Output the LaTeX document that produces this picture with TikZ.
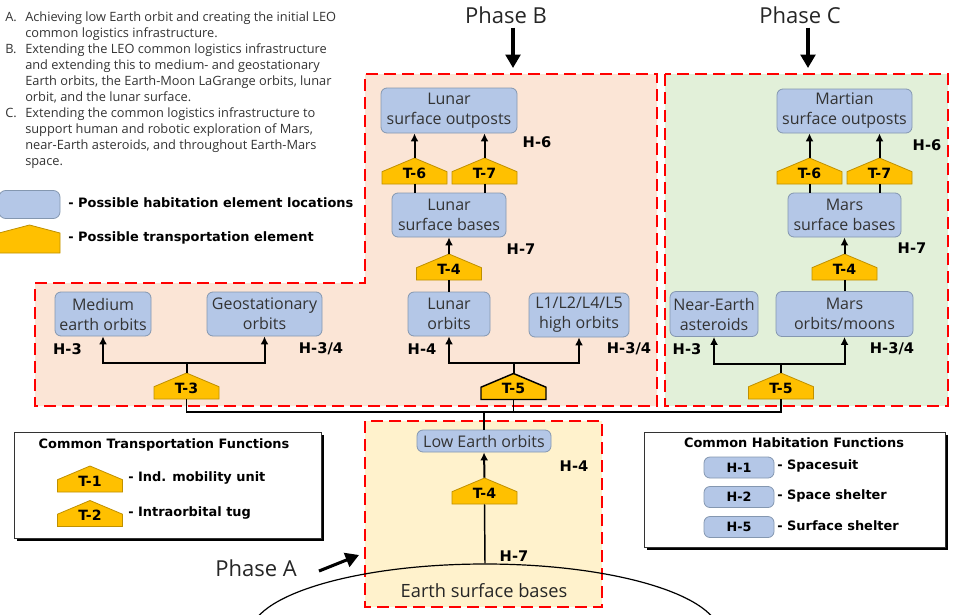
\documentclass[tikz,border=0pt]{standalone}
\usepackage{fontspec}
\setmainfont{Open Sans}
\newfontfamily\labfont{DejaVu Sans}
\usetikzlibrary{arrows.meta,shadows,calc,shapes.geometric}
\definecolor{habfill}{HTML}{B4C7E7}
\definecolor{habdraw}{HTML}{8497B0}
\definecolor{tfill}{HTML}{FFC000}
\definecolor{tdraw}{HTML}{BF9000}
\definecolor{bgB}{HTML}{FBE5D6}
\definecolor{bgC}{HTML}{E2F0D9}
\definecolor{bgA}{HTML}{FFF2CC}
\definecolor{desc}{HTML}{333333}
\tikzset{
 hab/.style={draw=habdraw, fill=habfill, rounded corners=4.5pt, line width=0.6pt, align=center, inner sep=0pt, font=\fontsize{12}{15}\selectfont, text=black!80},
 tlab/.style={minimum width=48.75pt, minimum height=19.5pt, inner sep=0pt, font=\labfont\bfseries\fontsize{10.6}{10}\selectfont, text height=11pt, text depth=0pt},
 house/.style={fill=tfill, draw=tdraw, line width=0.6pt},
 hlab/.style={font=\labfont\bfseries\fontsize{11}{13}\selectfont, inner sep=0pt},
 arr/.style={line width=1.5pt, -{Latex[length=6pt,width=6pt]}},
 link/.style={line width=1.5pt},
 bus/.style={line width=1.1pt},
 region/.style={draw=red, line width=1.9pt, dash pattern=on 9pt off 4.5pt},
 phase/.style={font=\fontsize{16.5}{18}\selectfont, text=black!85, inner sep=0pt},
 phasearr/.style={line width=2.3pt, -{Triangle[length=10pt,width=11pt]}},
 legtext/.style={font=\labfont\bfseries\fontsize{9.7}{12}\selectfont, inner sep=0pt, anchor=west},
 legbox/.style={draw=black!80, fill=white, line width=0.7pt, drop shadow={shadow xshift=2.25pt, shadow yshift=-2.25pt, fill=black, opacity=1}},
}
\newcommand\tnode[5][]{%
  \filldraw[house,#1] ({#3-32.5},{#4+13}) -- ({#3+32.5},{#4+13}) -- ({#3+32.5},{#4+0.7}) -- ({#3},{#4-13}) -- ({#3-32.5},{#4+0.7}) -- cycle;
  \node[tlab] (#2) at (#3,#4) {#5};}
\begin{document}
\begin{tikzpicture}[x=0.75pt,y=-0.75pt]
\useasboundingbox (0,0) rectangle (955,614);
\clip (0,0) rectangle (955,614);
% regions
\filldraw[region, fill=bgB] (35,283) -- (365,283) -- (365,74) -- (657,74) -- (657,406) -- (35,406) -- cycle;
\filldraw[region, fill=bgC] (665,74) rectangle (948,406);
\filldraw[region, fill=bgA] (365,421) rectangle (602,607);
% description
\node[anchor=north west, inner sep=0pt, align=left, text=desc, font=\fontsize{9.6}{12}\selectfont] (desc) at (5,11.5) {%
\makebox[15pt][l]{A.}Achieving low Earth orbit and creating the initial LEO\\
\hspace*{15pt}common logistics infrastructure.\\
\makebox[15pt][l]{B.}Extending the LEO common logistics infrastructure\\
\hspace*{15pt}and extending this to medium- and geostationary\\
\hspace*{15pt}Earth orbits, the Earth-Moon LaGrange orbits, lunar\\
\hspace*{15pt}orbit, and the lunar surface.\\
\makebox[15pt][l]{C.}Extending the common logistics infrastructure to\\
\hspace*{15pt}support human and robotic exploration of Mars,\\
\hspace*{15pt}near-Earth asteroids, and throughout Earth-Mars\\
\hspace*{15pt}space.};
% legend top
\node[hab, minimum width=45.75pt, minimum height=21pt, rounded corners=5pt] (leghab) at (29.5,204.5) {};
\node[legtext] (leghabt) at (68,203) {- Possible habitation element locations};
\filldraw[house] (-1,253) -- (60,253) -- (60,233) -- (29.5,225) -- (-1,233) -- cycle;
\node[legtext] (legtt) at (68,238) {- Possible transportation element};
% Phase labels
\node[phase] (pb) at (506,15) {Phase B};
\coordinate (pbtip) at (513,68);
\draw[phasearr] (pbtip |- pb.south) ++(0,4) -- (pbtip);
\node[phase] (pc) at (800,15) {Phase C};
\coordinate (pctip) at (808,68);
\draw[phasearr] (pctip |- pc.south) ++(0,4) -- (pctip);
\node[phase] (pa) at (256,568) {Phase A};
\coordinate (patip) at (359,555);
\draw[phasearr] ($(pa.east)+(22,3)$) -- (patip);
% Phase B nodes
\node[hab, minimum width=102pt, minimum height=33.75pt] (lso) at (449,110.5) {Lunar\\surface outposts};
\tnode{t6b}{414.5}{171}{T-6}
\tnode{t7b}{484.5}{171}{T-7}
\node[hab, minimum width=85.5pt, minimum height=33pt] (lsb) at (449,215) {Lunar\\surface bases};
\tnode{t4b}{449}{267}{T-4}
\node[hab, minimum width=61.5pt, minimum height=33pt] (lorb) at (449,314) {Lunar\\orbits};
\node[hab, minimum width=75pt, minimum height=33pt] (l1) at (579,315) {L1/L2/L4/L5\\high orbits};
\tnode[draw=black, line width=1.1pt]{t5b}{513.5}{386.5}{T-5}
\node[hlab] (h6b) at (537,142) {H-6};
\node[hlab] (h7b) at (521,249) {H-7};
\node[hlab] (h4b) at (422,349) {H-4};
\node[hlab] (h34b) at (629,349) {H-3/4};
% left part
\node[hab, minimum width=72pt, minimum height=33pt] (meo) at (103,314) {Medium\\earth orbits};
\node[hab, minimum width=86.25pt, minimum height=33pt] (geo) at (264.5,314) {Geostationary\\orbits};
\tnode{t3}{186.5}{386}{T-3}
\node[hlab] (h3l) at (67.5,349) {H-3};
\node[hlab] (h34l) at (321,349) {H-3/4};
% Phase C
\node[hab, minimum width=101.25pt, minimum height=33pt] (mso) at (844.5,111) {Martian\\surface outposts};
\tnode{t6c}{809.5}{171}{T-6}
\tnode{t7c}{879.5}{171}{T-7}
\node[hab, minimum width=84.75pt, minimum height=33pt] (msb) at (844.5,215) {Mars\\surface bases};
\tnode{t4c}{844.5}{267}{T-4}
\node[hab, minimum width=66pt, minimum height=33.75pt] (nea) at (714,314) {Near-Earth\\asteroids};
\node[hab, minimum width=102.75pt, minimum height=33.75pt] (mmo) at (844.5,314) {Mars\\orbits/moons};
\tnode{t5c}{781}{386}{T-5}
\node[hlab] (h6c) at (927,145) {H-6};
\node[hlab] (h7c) at (912,248) {H-7};
\node[hlab] (h3c) at (687,349) {H-3};
\node[hlab] (h34c) at (892,349) {H-3/4};
% Phase A
\node[hab, minimum width=100.5pt, minimum height=16.5pt] (leo) at (484,441) {Low Earth orbits};
\tnode{t4a}{484.5}{491}{T-4}
\node[hlab] (h4a) at (574,466) {H-4};
\node[hlab] (h7a) at (514,556) {H-7};
\node[ellipse, draw, line width=0.9pt, minimum width=352.5pt, minimum height=106.5pt, inner sep=0pt] (earth) at (485,635) {};
\node[font=\fontsize{13.7}{16}\selectfont, text=black!85, inner sep=0pt] (esb) at (484,591) {Earth surface bases};
% connectors Phase B
\draw[arr] (t6b.north) -- (t6b.north |- lso.south);
\draw[arr] (t7b.north) -- (t7b.north |- lso.south);
\draw[link] (lsb.north -| t6b.south) -- (t6b.south);
\draw[link] (lsb.north -| t7b.south) -- (t7b.south);
\draw[arr] (t4b.north) -- (lsb.south);
\draw[link] (t4b.south) -- (lorb.north);
\draw[arr] (t5b.north) -- ++(0,-10) -| (lorb.south);
\draw[arr] (t5b.north) -- ++(0,-10) -| (l1.south);
% connectors left
\draw[arr] (t3.north) -- ++(0,-10) -| (meo.south);
\draw[arr] (t3.north) -- ++(0,-10) -| (geo.south);
% connectors Phase C
\draw[arr] (t6c.north) -- (t6c.north |- mso.south);
\draw[arr] (t7c.north) -- (t7c.north |- mso.south);
\draw[link] (msb.north -| t6c.south) -- (t6c.south);
\draw[link] (msb.north -| t7c.south) -- (t7c.south);
\draw[arr] (t4c.north) -- (msb.south);
\draw[link] (t4c.south) -- (mmo.north);
\draw[arr] (t5c.north) -- ++(0,-9) -| (nea.south);
\draw[arr] (t5c.north) -- ++(0,-9) -| (mmo.south);
% bus
\coordinate (bus) at (484,412);
\draw[bus] (t3.south) |- (t5c.south |- bus) -- (t5c.south);
\draw[bus] (t5b.south) -- (t5b.south |- bus);
\draw[bus] (bus) -- (leo.north);
% Phase A connectors
\draw[arr] (t4a.north) -- (leo.south);
\draw[bus] (earth.north) -- (t4a.south);
% transportation legend
\node[legbox, minimum width=230.25pt, minimum height=79.5pt] (tleg) at (167.5,485) {};
\node[font=\labfont\bfseries\fontsize{9.7}{12}\selectfont, inner sep=0pt] (tlegt) at (164,445) {Common Transportation Functions};
\tnode{t1}{90}{479}{T-1}
\node[legtext] (t1t) at (128,478) {- Ind. mobility unit};
\tnode{t2}{90}{513.5}{T-2}
\node[legtext] (t2t) at (128,513) {- Intraorbital tug};
% habitation legend
\node[legbox, minimum width=225.75pt, minimum height=86.25pt] (hleg) at (794.5,489.5) {};
\node[font=\labfont\bfseries\fontsize{9.7}{12}\selectfont, inner sep=0pt] (hlegt) at (794,443) {Common Habitation Functions};
\node[hab, minimum width=52.5pt, minimum height=15.75pt, font=\labfont\bfseries\fontsize{9.6}{12}\selectfont, text=black] (h1) at (739,467.5) {H-1};
\node[legtext] (h1t) at (777,466) {- Spacesuit};
\node[hab, minimum width=52.5pt, minimum height=15.75pt, font=\labfont\bfseries\fontsize{9.6}{12}\selectfont, text=black] (h2) at (739,497) {H-2};
\node[legtext] (h2t) at (777,496) {- Space shelter};
\node[hab, minimum width=52.5pt, minimum height=15.75pt, font=\labfont\bfseries\fontsize{9.6}{12}\selectfont, text=black] (h5) at (739,527) {H-5};
\node[legtext] (h5t) at (777,526) {- Surface shelter};
\end{tikzpicture}
\end{document}
